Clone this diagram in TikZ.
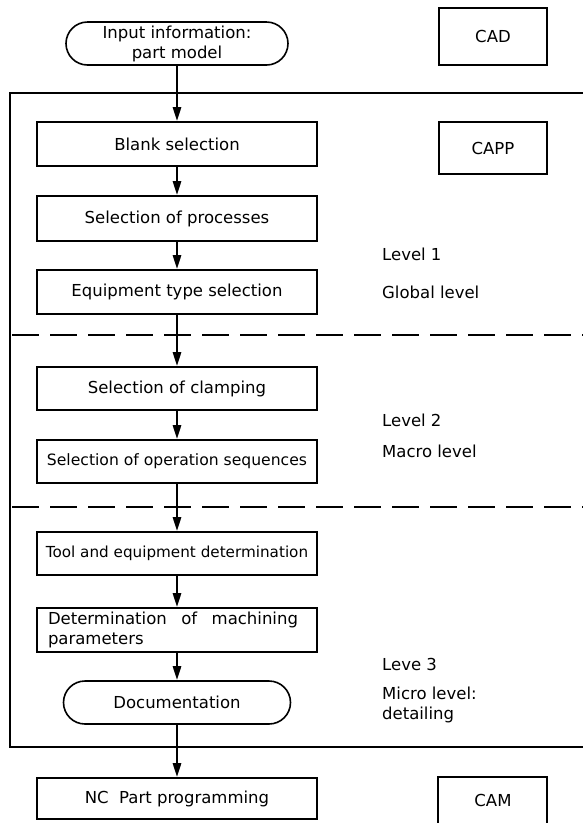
\documentclass[tikz,border=0pt]{standalone}
\usepackage{fontspec}
\setmainfont{DejaVu Sans}
\usetikzlibrary{arrows.meta}

\tikzset{
  txt/.style={font=\fontsize{16.5}{20}\selectfont},
  stepbox/.style={txt, draw, line width=1.6pt, rectangle, inner sep=0pt,
    minimum width=280pt, minimum height=44pt, align=center},
  terminal/.style={txt, draw, line width=1.6pt, rectangle, rounded corners=21.5pt,
    inner sep=0pt, minimum height=43pt, align=center},
  sidebox/.style={txt, draw, line width=1.6pt, rectangle, inner sep=0pt,
    minimum width=108pt, align=center},
  lvl/.style={txt, anchor=west, inner sep=0pt, align=left},
  flow/.style={line width=2.6pt, -{Triangle[length=14pt,width=8pt]}},
  frame/.style={line width=1.8pt},
  levelsep/.style={line width=1.6pt, dash pattern=on 27pt off 11pt}
}

\begin{document}
\begin{tikzpicture}[x=1pt, y=-1pt]
  \useasboundingbox (0,0) rectangle (582,823);

  % enclosing CAPP frame, open towards the right edge
  \coordinate (frTR) at (585,93);
  \coordinate (frTL) at (10,93);
  \coordinate (frBL) at (10,747);
  \coordinate (frBR) at (585,747);
  \draw[frame] (frTR) -- (frTL) -- (frBL) -- (frBR);

  % separators between the planning levels
  \coordinate (s1a) at (12,335);
  \coordinate (s1b) at (585,335);
  \coordinate (s2a) at (12,507);
  \coordinate (s2b) at (585,507);
  \draw[levelsep] (s1a) -- (s1b);
  \draw[levelsep] (s2a) -- (s2b);

  % main process chain
  \node[terminal, minimum width=222pt] (input) at (177,43.5) {Input information:\\part model};
  \node[stepbox] (blank) at (177,144) {Blank selection};
  \node[stepbox, minimum height=45pt] (proc) at (177,218.5) {Selection of processes};
  \node[stepbox] (equip) at (177,292) {Equipment type selection};
  \node[stepbox, minimum height=43pt] (clamp) at (177,388.5) {Selection of clamping};
  \node[stepbox, minimum height=43pt, font=\fontsize{15.6}{19}\selectfont] (opseq) at (177,461.5) {Selection of operation sequences};
  \node[stepbox, minimum height=43pt, font=\fontsize{15.2}{19}\selectfont] (tool) at (177,553.5) {Tool and equipment determination};
  \node[stepbox, text width=258pt, align=left] (param) at (177,630)
    {\hbox to 250pt{Determination\hfill of\hfill machining}\\parameters};
  \node[terminal, minimum width=227pt] (doc) at (177,702.5) {Documentation};
  \node[stepbox, minimum height=41pt] (nc) at (177,798.5) {NC\ \ Part programming};

  % system boxes on the right
  \node[sidebox, minimum height=57pt] (cad) at (493,36.5) {CAD};
  \node[sidebox, minimum height=52pt] (capp) at (493,148) {CAPP};
  \coordinate (camBL) at (438,830);
  \coordinate (camTL) at (438,777);
  \coordinate (camTR) at (547,777);
  \coordinate (camBR) at (547,830);
  \draw[line width=1.6pt] (camBL) -- (camTL) -- (camTR) -- (camBR);
  \node[txt, inner sep=0pt] (cam) at (493,800) {CAM};

  % level annotations
  \node[lvl] (l1) at (382,254) {Level 1};
  \node[lvl] (l1n) at (382,292) {Global level};
  \node[lvl] (l2) at (382,420) {Level 2};
  \node[lvl] (l2n) at (382,451) {Macro level};
  \node[lvl] (l3) at (382,664) {Leve 3};
  \node[lvl] (l3n) at (382,705) {Micro level:\\detailing};

  % connectors
  \draw[flow] (input) -- (blank);
  \draw[flow] (blank) -- (proc);
  \draw[flow] (proc) -- (equip);
  \draw[flow] (equip) -- (clamp);
  \draw[flow] (clamp) -- (opseq);
  \draw[flow] (opseq) -- (tool);
  \draw[flow] (tool) -- (param);
  \draw[flow] (param) -- (doc);
  \draw[flow] (doc) -- (nc);
\end{tikzpicture}
\end{document}
